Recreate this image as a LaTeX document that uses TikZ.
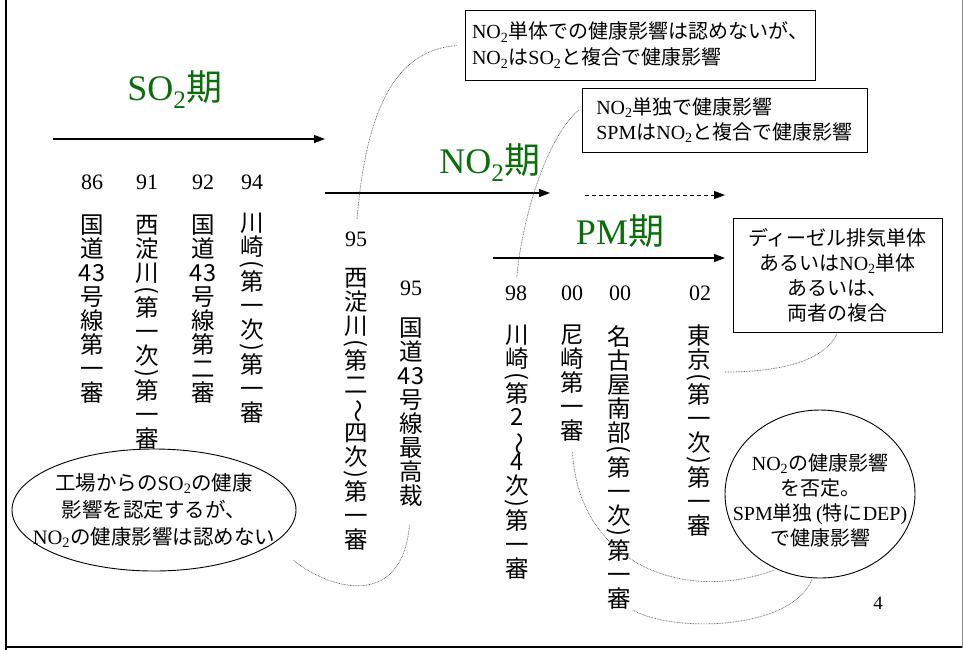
\documentclass[tikz,border=0pt]{standalone}
\usepackage{fontspec}
\setmainfont{Liberation Serif}
\newfontfamily\jp{Noto Sans CJK JP}
\usepackage{graphicx}
\usetikzlibrary{arrows.meta,shapes.geometric}
\definecolor{periodgreen}{RGB}{10,110,10}
\newcommand\vpo{\rotatebox[origin=c]{-90}{(}}
\newcommand\vpc{\rotatebox[origin=c]{-90}{)}}
\newcommand\vwv{\rotatebox[origin=c]{-90}{〜}}
\newcommand\sbs[1]{\textsubscript{#1}}
\newcommand\OP{\\[-8pt]\vpo\\[-5pt]}
\newcommand\CP{\\[-8pt]\vpc\\[-5pt]}
\begin{document}
\begin{tikzpicture}[x=1pt,y=-1pt,
  num/.style={font=\fontsize{22}{26}\selectfont, inner sep=0pt},
  vcol/.style={font=\jp\fontsize{23.5}{24}\selectfont, align=center, inner sep=0pt, anchor=north},
  period/.style={font=\fontsize{36}{40}\selectfont, text=periodgreen, inner sep=0pt},
  tl/.style={line width=1.2pt, -{Triangle[length=11pt,width=8pt]}},
  box/.style={draw, line width=0.9pt, inner sep=0pt, font=\fontsize{20}{26}\selectfont},
  bubble/.style={draw, ellipse, line width=0.9pt, inner sep=0pt},
  bubbletext/.style={align=center, inner sep=0pt, font=\fontsize{20}{26}\selectfont},
  link/.style={draw=black!60, line width=0.7pt, dash pattern=on 0.8pt off 0.8pt}
]
\useasboundingbox (0,0) rectangle (963,649);
% frame
\draw[line width=2.4pt] (6.2,-1) -- (6.2,650);
\draw[line width=2pt] (5,647.2) -- (964,647.2);
\draw[black!45, line width=0.8pt] (962.3,-1) -- (962.3,648);

% period labels
\node[period] (so2) at (175,90) {SO\sbs{2}{\jp 期}};
\node[period] (no2) at (490,163) {NO\sbs{2}{\jp 期}};
\node[period] (pm) at (620,231) {PM{\jp 期}};

% time arrows
\coordinate (a1s) at (53,139);  \coordinate (a1e) at (325,139);
\coordinate (a2s) at (325,193); \coordinate (a2e) at (550,193);
\coordinate (a3s) at (585,195); \coordinate (a3e) at (725,195);
\coordinate (a4s) at (493,258); \coordinate (a4e) at (725,258);
\draw[tl] (a1s) -- (a1e);
\draw[tl] (a2s) -- (a2e);
\draw[tl, line width=1pt, dash pattern=on 4pt off 3pt] (a3s) -- (a3e);
\draw[tl] (a4s) -- (a4e);

% years
\node[num] (n86) at (92,182) {86};
\node[num] (n91) at (147,182) {91};
\node[num] (n92) at (203,182) {92};
\node[num] (n94) at (252,182) {94};
\node[num] (n95a) at (356,239) {95};
\node[num] (n95b) at (411,288) {95};
\node[num] (n98) at (516,293) {98};
\node[num] (n00a) at (572,293) {00};
\node[num] (n00b) at (620,293) {00};
\node[num] (n02) at (700,293) {02};

% vertical case names
\node[vcol] (c86) at (92,215) {国\\道\\43\\号\\線\\第\\一\\審};
\node[vcol] (c91) at (147,215) {西\\淀\\川\OP 第\\一\\次\CP 第\\一\\審};
\node[vcol] (c92) at (203,215) {国\\道\\43\\号\\線\\第\\二\\審};
\node[vcol] (c94) at (252,213) {川\\崎\OP 第\\一\\次\CP 第\\一\\審};
\node[vcol] (c95a) at (356,268) {西\\淀\\川\OP 第\\二\\\vwv\\四\\次\CP 第\\一\\審};
\node[vcol] (c95b) at (411,318) {国\\道\\43\\号\\線\\最\\高\\裁};
\node[vcol] (c98) at (517,325) {川\\崎\OP 第\\[-1pt]2\\[1pt]\vwv\\[-4pt]4\\次\CP 第\\一\\審};
\node[vcol] (c00a) at (572,325) {尼\\崎\\第\\一\\審};
\node[vcol] (c00b) at (619,325) {名\\古\\屋\\南\\部\OP 第\\一\\次\CP 第\\一\\審};
\node[vcol] (c02) at (699,325) {東\\京\OP 第\\一\\次\CP 第\\一\\審};

% boxes
\node[box, minimum width=350pt, minimum height=70pt, align=left] (box1) at (640,45)
  {NO\sbs{2}{\jp 単体での健康影響は認めないが、}\\NO\sbs{2}{\jp は}SO\sbs{2}{\jp と複合で健康影響}};
\node[box, minimum width=285pt, minimum height=64pt, align=left, font=\fontsize{20}{25}\selectfont] (box2) at (724.5,120)
  {NO\sbs{2}{\jp 単独で健康影響}\\SPM{\jp は}NO\sbs{2}{\jp と複合で健康影響}};
\node[box, minimum width=209pt, minimum height=114pt, align=center, font=\fontsize{20}{25}\selectfont] (box3) at (837.5,275)
  {{\jp ディーゼル排気単体}\\{\jp あるいは}NO\sbs{2}{\jp 単体}\\{\jp あるいは、}\\{\jp 両者の複合}};

% bubbles
\node[bubble, minimum width=284pt, minimum height=122pt] (ell1) at (154,510) {};
\node[bubbletext, font=\fontsize{20.5}{27}\selectfont] (ell1t) at (154,510)
  {{\jp 工場からの}SO\sbs{2}{\jp の健康}\\{\jp 影響を認定するが、}\\NO\sbs{2}{\jp の健康影響は認めない}};
\node[bubble, minimum width=190pt, minimum height=168pt] (ell2) at (820,494) {};
\node[bubbletext, font=\fontsize{20}{25}\selectfont] (ell2t) at (820,500)
  {NO\sbs{2}{\jp の健康影響}\\{\jp を否定。}\\SPM{\jp 単独}\,({\jp 特に}DEP)\\{\jp で健康影響}};

% page number
\node[num, font=\fontsize{19}{22}\selectfont] (pg) at (878,603) {4};

% dotted links
\coordinate (e1) at (293,560);
\coordinate (t02) at (725,372);
\draw[link, shorten <=8pt, shorten >=12pt] (box1.west) .. controls (395,50) and (366,110) .. (n95a.north);
\draw[link, shorten <=4pt, shorten >=8pt] (box2.175) .. controls (545,140) and (522,220) .. (n98.north);
\draw[link, shorten <=18pt] (c95b.south) .. controls (402,610) and (330,590) .. (e1);
\draw[link, shorten <=10pt, shorten >=2pt] (c00a.south) .. controls (578,560) and (680,605) .. (ell2.-120);
\draw[link, shorten <=2pt, shorten >=1pt] (c00b.south east) .. controls (670,632) and (790,632) .. (ell2.-95);
\draw[link] (t02) .. controls (800,372) and (830,352) .. (box3.south);
\end{tikzpicture}
\end{document}
